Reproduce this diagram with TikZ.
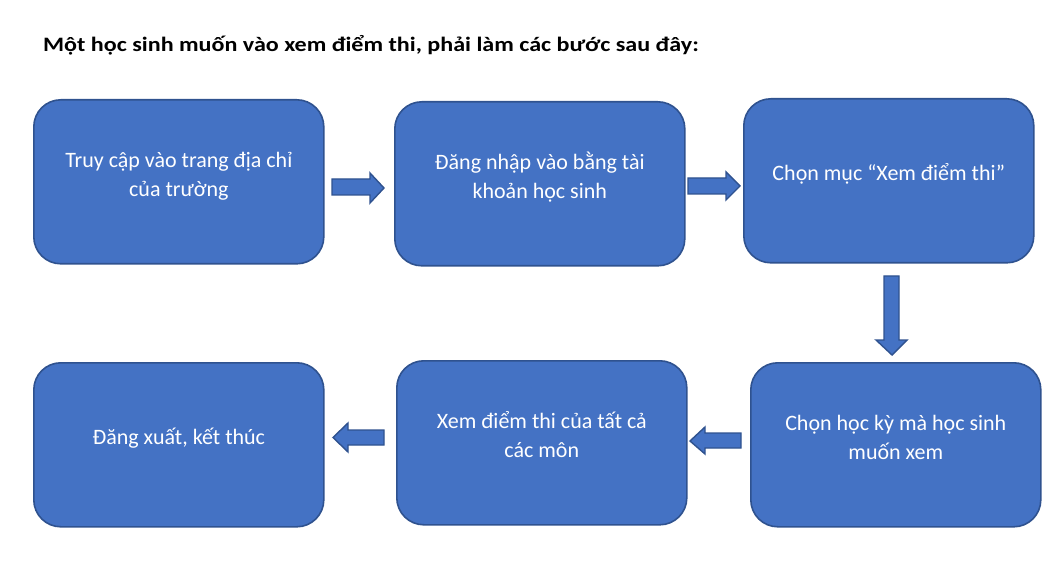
\documentclass[tikz,border=0pt]{standalone}
\usepackage{fontspec}
\setmainfont{Carlito}
\usetikzlibrary{calc}
\definecolor{boxfill}{HTML}{4472C4}
\definecolor{boxline}{HTML}{2F528F}
\newcommand{\boxtext}[1]{\raisebox{0.8pt}[0pt][0pt]{\fontsize{22}{29}\selectfont\begin{tabular}{@{}c@{}}#1\end{tabular}}}
\begin{document}
\begin{tikzpicture}[x=1pt,y=-1pt,
  stepbox/.style={draw=boxline, line width=1.6pt, fill=boxfill, rounded corners=27pt,
    minimum width=290pt, minimum height=164pt, inner sep=0pt, text=white, anchor=north west},
  blockarrow/.style={draw=boxline, line width=1.4pt, fill=boxfill, line join=miter}]
\useasboundingbox (0,0) rectangle (1060,569);
\node[anchor=base west, inner sep=0pt, font=\fontsize{20.5}{24}\selectfont\bfseries] (title) at (43,52)
  {\scalebox{1.174}[1]{Một học sinh muốn vào xem điểm thi, phải làm các bước sau đây:}};
\node[stepbox] (b1) at (33,99)  {\boxtext{Truy cập vào trang địa chỉ\\của trường}};
\node[stepbox] (b2) at (394,101) {\boxtext{Đăng nhập vào bằng tài\\khoản học sinh}};
\node[stepbox] (b3) at (743,98)  {\boxtext{Chọn mục “Xem điểm thi”}};
\node[stepbox] (b4) at (750,362) {\boxtext{Chọn học kỳ mà học sinh\\muốn xem}};
\node[stepbox] (b5) at (396,360) {\boxtext{Xem điểm thi của tất cả\\các môn}};
\node[stepbox] (b6) at (33,362)  {\boxtext{Đăng xuất, kết thúc}};
% block arrows
\draw[blockarrow] (332,179) -- (370,179) -- (370,173) -- (384,188) -- (370,203) -- (370,195) -- (332,195) -- cycle;
\draw[blockarrow] (688,178) -- (726,178) -- (726,172) -- (740,186) -- (726,200) -- (726,194) -- (688,194) -- cycle;
\draw[blockarrow] (884,276) -- (899,276) -- (899,340) -- (907,340) -- (892,355) -- (876,340) -- (884,340) -- cycle;
\draw[blockarrow] (741,433) -- (705,433) -- (705,427) -- (690,441) -- (705,454) -- (705,448) -- (741,448) -- cycle;
\draw[blockarrow] (384,430) -- (348,430) -- (348,423) -- (333,437.5) -- (348,452) -- (348,445) -- (384,445) -- cycle;
\end{tikzpicture}
\end{document}
